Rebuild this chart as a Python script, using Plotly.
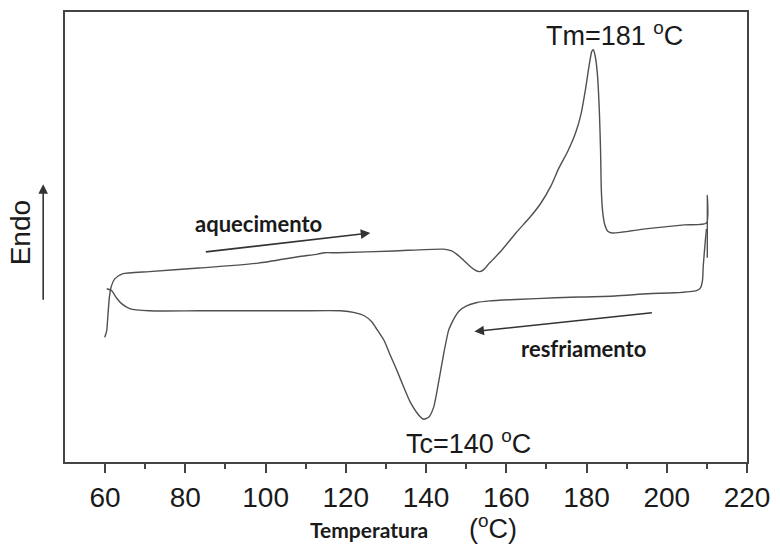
import plotly.graph_objects as go

# Heating curve (aquecimento): temperature (°C) and heat flow (arb. units, endo up)
heat_T = [59.9, 60.4, 60.6, 61.1, 61.6, 62.4, 64.3, 71.0, 83.4, 98.2, 108.1, 113.0, 114.7, 118.0,
          132.0, 144.4, 146.4, 147.6, 149.3, 150.8, 152.1, 153.3, 154.3, 155.8, 158.7, 162.4,
          166.1, 168.6, 171.1, 173.1, 175.3, 177.3, 178.7, 179.7, 180.7, 181.3, 181.7, 182.2,
          182.7, 183.2, 183.5, 183.7, 184.0, 184.5, 185.3, 186.4, 194.6, 204.4, 209.9, 210.1, 210.1]
heat_Y = [27.7, 29.2, 31.4, 36.9, 39.2, 40.7, 41.8, 42.3, 43.1, 44.2, 45.6, 46.2, 46.5, 46.5,
          46.9, 47.3, 46.9, 46.2, 44.9, 43.6, 42.7, 42.3, 42.7, 44.2, 46.9, 50.9,
          54.6, 57.5, 61.3, 65.3, 69.0, 73.2, 77.6, 82.6, 88.4, 91.2, 91.6, 90.0,
          86.3, 77.9, 69.0, 60.2, 55.8, 52.9, 51.3, 50.9, 51.8, 52.7, 53.1, 59.3, 45.4]

# Cooling curve (resfriamento)
cool_T = [209.9, 209.6, 209.1, 208.9, 208.4, 207.4, 202.0, 195.3, 187.1, 172.3, 162.4, 155.8,
          152.5, 150.1, 148.3, 147.1, 146.1, 145.6, 144.4, 143.2, 141.9, 140.7, 139.4, 138.2,
          136.0, 134.5, 132.8, 131.0, 129.6, 127.8, 126.4, 124.6, 122.2, 118.7, 108.1, 98.2,
          83.4, 71.0, 66.1, 64.1, 62.8, 61.6, 60.4]
cool_Y = [51.8, 49.1, 43.6, 40.3, 38.7, 38.1, 37.6, 37.4, 36.9, 36.5, 36.1, 35.8,
          35.4, 34.7, 33.6, 32.1, 30.3, 29.2, 24.1, 18.1, 12.2, 10.0, 9.5, 10.4,
          13.4, 16.5, 20.2, 23.9, 26.9, 29.4, 31.2, 32.5, 33.2, 33.6, 33.6, 33.6,
          33.6, 33.6, 34.1, 35.2, 36.5, 38.1, 38.5]

x_ticks = [60, 80, 100, 120, 140, 160, 180, 200, 220]

line_color = "#505050"
frame_color = "#444444"
text_color = "#1a1a1a"
sans = "Liberation Sans, Arial, sans-serif"
calib = "Lato, Open Sans, sans-serif"

fig = go.Figure()
fig.add_trace(go.Scatter(x=heat_T, y=heat_Y, mode="lines",
                         line=dict(color=line_color, width=1.4, shape="spline", smoothing=0.6),
                         showlegend=False))
fig.add_trace(go.Scatter(x=cool_T, y=cool_Y, mode="lines",
                         line=dict(color=line_color, width=1.4, shape="spline", smoothing=0.6),
                         showlegend=False))

fig.update_layout(
    width=780, height=545,
    margin=dict(l=65, r=27, t=10, b=83),
    paper_bgcolor="white", plot_bgcolor="white",
    xaxis=dict(range=[50, 220], tickvals=x_ticks, ticks="outside", ticklen=9, tickwidth=1.5,
               tickcolor=frame_color, showline=True, linewidth=2, linecolor=frame_color,
               mirror=True, showgrid=False, zeroline=False,
               tickfont=dict(family=sans, size=28, color=text_color),
               minor=dict(tickvals=[70, 90, 110, 130, 150, 170, 190, 210], ticks="outside",
                          ticklen=5, tickwidth=1.5, tickcolor=frame_color)),
    yaxis=dict(range=[0, 100], showticklabels=False, ticks="", showline=True, linewidth=2,
               linecolor=frame_color, mirror=True, showgrid=False, zeroline=False),
)

ann = [
    dict(x=0.806, y=0.951, text="Tm=181 <sup>o</sup>C", font=dict(family=sans, size=27, color=text_color)),
    dict(x=0.591, y=0.044, text="Tc=140 <sup>o</sup>C", font=dict(family=sans, size=27, color=text_color)),
    dict(x=0.283, y=0.531, text="<b>aquecimento</b>", font=dict(family=calib, size=22, color=text_color)),
    dict(x=0.760, y=0.252, text="<b>resfriamento</b>", font=dict(family=calib, size=22, color=text_color)),
    dict(x=-0.064, y=0.509, text="Endo", textangle=-90, font=dict(family=sans, size=28, color=text_color)),
    dict(x=0.446, y=-0.150, text="<b>Temperatura</b>", font=dict(family=calib, size=21, color=text_color)),
    dict(x=0.628, y=-0.144, text="(<sup>o</sup>C)", font=dict(family=sans, size=27, color=text_color)),
]
for a in ann:
    a.update(xref="paper", yref="paper", showarrow=False, xanchor="center", yanchor="middle")
    fig.add_annotation(**a)

arrows = [
    dict(x=0.4477, y=0.5088, ax=-166, ay=19),
    dict(x=0.6003, y=0.2898, ax=179, ay=-19),
    dict(x=-0.032, y=0.6173, ax=0, ay=117),
]
for a in arrows:
    fig.add_annotation(xref="paper", yref="paper", text="", showarrow=True, arrowhead=2,
                       arrowsize=1.2, arrowwidth=1.6, arrowcolor="#333333", **a)

fig.write_html("out.html")
